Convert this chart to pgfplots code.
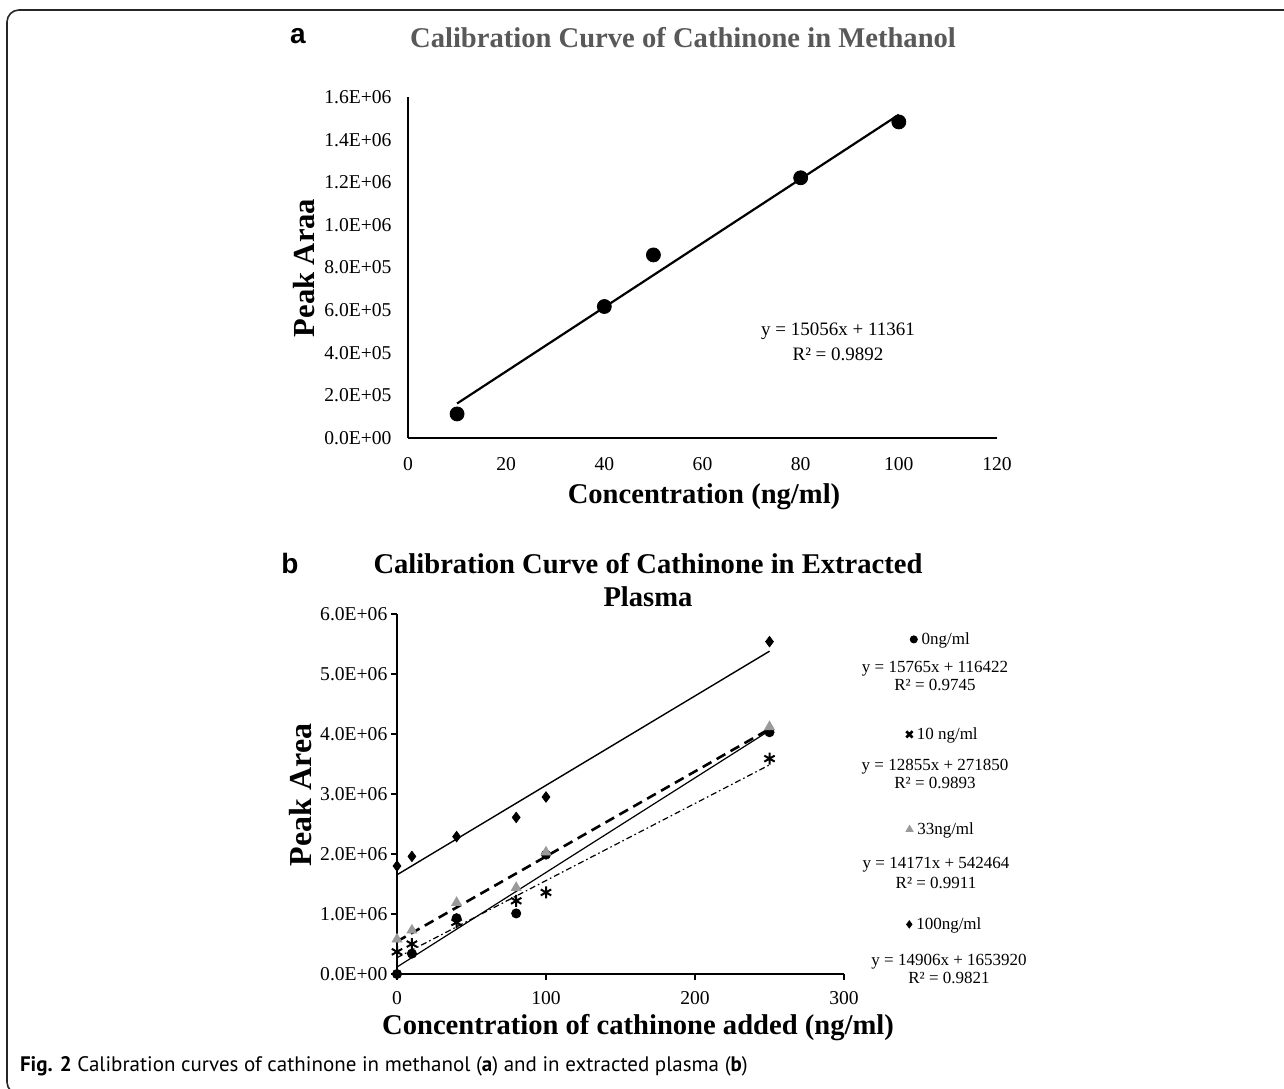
\documentclass[border=0pt]{standalone}
\usepackage{pgfplots}
\pgfplotsset{compat=1.18}
\usepackage{fontspec}
\setmainfont{Liberation Serif}
\newfontfamily\arialfont{Liberation Sans}
\newfontfamily\capfont{PT Sans}
\usetikzlibrary{plotmarks}
\definecolor{titlegray}{HTML}{595959}
\definecolor{trigray}{HTML}{9A9A9A}
\newcommand\lmark[4]{\tikz[baseline=-0.6ex]{\pgfsetplotmarksize{#2}\pgfsetlinewidth{#4}\color{#3}\pgfuseplotmark{#1}}}
\begin{document}
\begin{tikzpicture}
\useasboundingbox (0,0) rectangle (642pt,-544pt);
\draw[line width=0.8pt, color=black!85, rounded corners=6pt] (660pt,-5pt) -- (3.5pt,-5pt) -- (3.5pt,-547pt) -- (40pt,-547pt);

% ---------- Panel a ----------
\begin{axis}[
  at={(204pt,-219pt)}, anchor=south west,
  scale only axis, width=294.5pt, height=170.5pt,
  xmin=0, xmax=120, ymin=0, ymax=1600000,
  axis x line*=bottom, axis y line*=left,
  axis line style={-, line width=1.1pt},
  major tick length=0pt,
  scaled y ticks=false, scaled x ticks=false,
  xtick={0,20,40,60,80,100,120},
  xticklabels={0,20,40,60,80,100,120},
  ytick={0,200000,400000,600000,800000,1000000,1200000,1400000,1600000},
  yticklabels={0.0E+00,2.0E+05,4.0E+05,6.0E+05,8.0E+05,1.0E+06,1.2E+06,1.4E+06,1.6E+06},
  tick label style={font=\fontsize{9.8}{11}\selectfont},
  yticklabel style={xshift=-4.7pt},
  xticklabel style={yshift=-6.3pt},
  /pgf/number format/assume math mode=true,
  clip=false,
]
\addplot[only marks, mark=*, mark size=3.5pt, black] coordinates {
  (10,113000) (40,617000) (50,859000) (80,1221000) (100,1483000)};
\addplot[black, line width=1.1pt] coordinates {(10,161921) (100,1516961)};
\end{axis}

\node[font=\fontsize{9.5}{11}\selectfont] at (419pt,-165.5pt) {y = 15056x + 11361};
\node[font=\fontsize{9.5}{11}\selectfont] at (419pt,-177pt) {R² = 0.9892};

\node[font=\bfseries\fontsize{14.3}{16}\selectfont, text=titlegray] at (341.5pt,-19pt) {Calibration Curve of Cathinone in Methanol};
\node[font=\arialfont\bfseries\fontsize{14}{16}\selectfont] at (149pt,-18pt) {a};
\node[font=\bfseries\fontsize{14.3}{16}\selectfont] at (352pt,-248.5pt) {Concentration (ng/ml)};
\node[font=\bfseries\fontsize{15.3}{17}\selectfont, rotate=90] at (152pt,-134pt) {Peak Araa};

% ---------- Panel b ----------
\begin{axis}[
  at={(198.5pt,-487pt)}, anchor=south west,
  scale only axis, width=223.5pt, height=180pt,
  xmin=0, xmax=300, ymin=0, ymax=6000000,
  axis x line*=bottom, axis y line*=left,
  axis line style={-, line width=1.1pt},
  tick align=outside, major tick length=3pt,
  tick style={line width=0.9pt, black},
  scaled y ticks=false, scaled x ticks=false,
  xtick={0,100,200,300},
  xticklabels={0,100,200,300},
  ytick={0,1000000,2000000,3000000,4000000,5000000,6000000},
  yticklabels={0.0E+00,1.0E+06,2.0E+06,3.0E+06,4.0E+06,5.0E+06,6.0E+06},
  tick label style={font=\fontsize{9.8}{11}\selectfont},
  yticklabel style={xshift=1.7pt},
  xticklabel style={yshift=-2pt},
  clip=false,
]
% markers
\addplot[only marks, mark=*, mark size=2.3pt, black] coordinates {
  (0,0) (10,340000) (40,930000) (80,1010000) (100,1990000) (250,4030000)};
\addplot[only marks, mark=asterisk, mark size=3pt, black, mark options={line width=1pt}] coordinates {
  (0,370000) (10,500000) (40,860000) (80,1220000) (100,1360000) (250,3590000)};
\addplot[only marks, mark=triangle*, mark size=2.8pt, trigray] coordinates {
  (0,580000) (10,730000) (40,1190000) (80,1440000) (100,2030000) (250,4120000)};
\addplot[only marks, mark=diamond*, mark size=2.6pt, black] coordinates {
  (0,1800000) (10,1960000) (40,2290000) (80,2610000) (100,2950000) (250,5540000)};
% trendlines
\addplot[black, line width=0.6pt] coordinates {(0,116422) (250,4057672)};
\addplot[black, line width=0.6pt, dash pattern=on 3pt off 1.5pt on 0.8pt off 1.5pt] coordinates {(0,271850) (250,3485600)};
\addplot[black, line width=1.3pt, dash pattern=on 5pt off 3pt] coordinates {(0,542464) (250,4085214)};
\addplot[black, line width=0.7pt] coordinates {(0,1653920) (250,5380420)};
\end{axis}

\node[font=\bfseries\fontsize{14.3}{17}\selectfont, align=center] at (324pt,-290pt) {Calibration Curve of Cathinone in Extracted\\[-0.5pt]Plasma};
\node[font=\arialfont\bfseries\fontsize{14}{16}\selectfont] at (145pt,-281.5pt) {b};
\node[font=\bfseries\fontsize{14.3}{16}\selectfont] at (319pt,-514pt) {Concentration of cathinone added (ng/ml)};
\node[font=\bfseries\fontsize{16}{17}\selectfont, rotate=90] at (150.5pt,-397.5pt) {Peak Area};

% equations / legend
\begin{scope}[every node/.style={font=\fontsize{8.5}{10}\selectfont}]
\node at (470pt,-320pt) {\lmark{*}{1.8pt}{black}{0.4pt} 0ng/ml};
\node at (467.5pt,-334.5pt) {y = 15765x + 116422};
\node at (467.5pt,-342.5pt) {R² = 0.9745};
\node at (471pt,-367.5pt) {\lmark{x}{2.2pt}{black}{1.3pt} 10 ng/ml};
\node at (467.5pt,-383.5pt) {y = 12855x + 271850};
\node at (467.5pt,-391.5pt) {R² = 0.9893};
\node at (470pt,-415pt) {\lmark{triangle*}{2pt}{trigray}{0.4pt} 33ng/ml};
\node at (468pt,-432.5pt) {y = 14171x + 542464};
\node at (468pt,-441.5pt) {R² = 0.9911};
\node at (472pt,-462.5pt) {\lmark{diamond*}{1.8pt}{black}{0.4pt} 100ng/ml};
\node at (474.5pt,-481pt) {y = 14906x + 1653920};
\node at (474.5pt,-489pt) {R² = 0.9821};
\end{scope}

\node[anchor=base west, font=\capfont\fontsize{10.5}{12}\selectfont] at (6.5pt,-535.5pt) {\textbf{Fig. 2} Calibration curves of cathinone in methanol (\textbf{a}) and in extracted plasma (\textbf{b})};
\end{tikzpicture}
\end{document}
